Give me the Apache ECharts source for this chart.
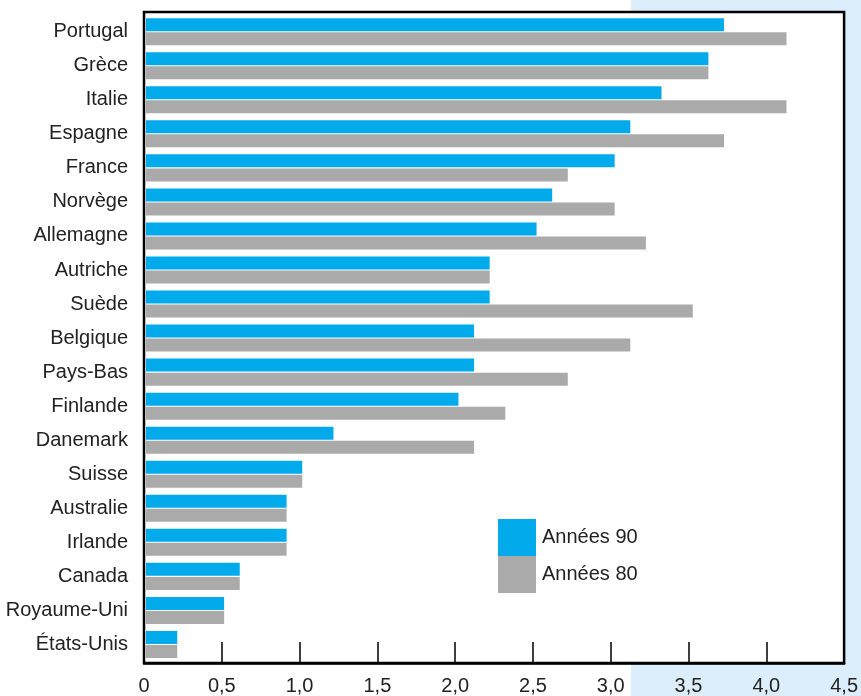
<!DOCTYPE html>
<html>
<head>
<meta charset="utf-8">
<script src="https://cdn.jsdelivr.net/npm/echarts@6/dist/echarts.min.js"></script>
<style>
  html, body { margin: 0; padding: 0; background: #fff; }
  #chart { width: 861px; height: 696px; }
</style>
</head>
<body>
<div id="chart"></div>
<script>
const countries = ['Portugal', 'Grèce', 'Italie', 'Espagne', 'France', 'Norvège', 'Allemagne', 'Autriche', 'Suède', 'Belgique', 'Pays-Bas', 'Finlande', 'Danemark', 'Suisse', 'Australie', 'Irlande', 'Canada', 'Royaume-Uni', 'États-Unis'];
const annees90 = [3.7, 3.6, 3.3, 3.1, 3.0, 2.6, 2.5, 2.2, 2.2, 2.1, 2.1, 2.0, 1.2, 1.0, 0.9, 0.9, 0.6, 0.5, 0.2];
const annees80 = [4.1, 3.6, 4.1, 3.7, 2.7, 3.0, 3.2, 2.2, 3.5, 3.1, 2.7, 2.3, 2.1, 1.0, 0.9, 0.9, 0.6, 0.5, 0.2];
const xTickLabels = ['0', '0,5', '1,0', '1,5', '2,0', '2,5', '3,0', '3,5', '4,0', '4,5'];
const seriesNames = ['Années 90', 'Années 80'];

const FONT = '"Liberation Sans", Arial, sans-serif';
const TEXT = '#222222';

const chart = echarts.init(document.getElementById('chart'), null, { renderer: 'canvas' });
chart.setOption({
  animation: false,
  backgroundColor: '#ffffff',
  textStyle: { fontFamily: FONT },
  graphic: {
    elements: [{
      type: 'rect',
      z: -100,
      shape: { x: 631, y: 0, width: 230, height: 696 },
      style: { fill: '#dceefb' },
      silent: true
    }]
  },
  grid: [
    { left: 144, top: 12, width: 701, height: 653, show: true, backgroundColor: '#ffffff', borderColor: '#000', borderWidth: 2.5 },
    { left: 146, top: 14.7, width: 703, height: 646.8, show: false }
  ],
  legend: {
    data: seriesNames,
    orient: 'vertical',
    left: 498,
    top: 519,
    padding: 0,
    itemGap: 0,
    itemWidth: 38,
    itemHeight: 37,
    icon: 'rect',
    textStyle: { fontSize: 20, color: TEXT, fontFamily: FONT, padding: [4, 0, 0, 1] }
  },
  xAxis: [
    {
      gridIndex: 0,
      type: 'value',
      min: 0, max: 4.5, interval: 0.5,
      axisLine: { show: true, lineStyle: { color: '#000', width: 2.5 } },
      axisTick: { show: true, inside: true, length: 21, lineStyle: { color: '#000', width: 1.5 } },
      splitLine: { show: false },
      axisLabel: {
        margin: 13,
        fontSize: 20,
        color: TEXT,
        fontFamily: FONT,
        formatter: (v, i) => xTickLabels[i]
      }
    },
    {
      gridIndex: 1,
      type: 'value',
      min: 0, max: 4.5,
      show: false,
      splitLine: { show: false }
    }
  ],
  yAxis: [
    {
      gridIndex: 0,
      type: 'value',
      show: false,
      splitLine: { show: false }
    },
    {
      gridIndex: 1,
      type: 'category',
      data: countries,
      inverse: true,
      axisLine: { show: false },
      axisTick: { show: false },
      axisLabel: { margin: 18, fontSize: 20, color: TEXT, fontFamily: FONT }
    }
  ],
  series: [
    {
      name: seriesNames[0],
      type: 'bar',
      xAxisIndex: 1, yAxisIndex: 1,
      data: annees90,
      barWidth: 13,
      barGap: '8%',
      itemStyle: { color: '#00aaeb' }
    },
    {
      name: seriesNames[1],
      type: 'bar',
      xAxisIndex: 1, yAxisIndex: 1,
      data: annees80,
      barWidth: 13,
      barGap: '8%',
      itemStyle: { color: '#aaaaaa' }
    }
  ]
});
</script>
</body>
</html>
